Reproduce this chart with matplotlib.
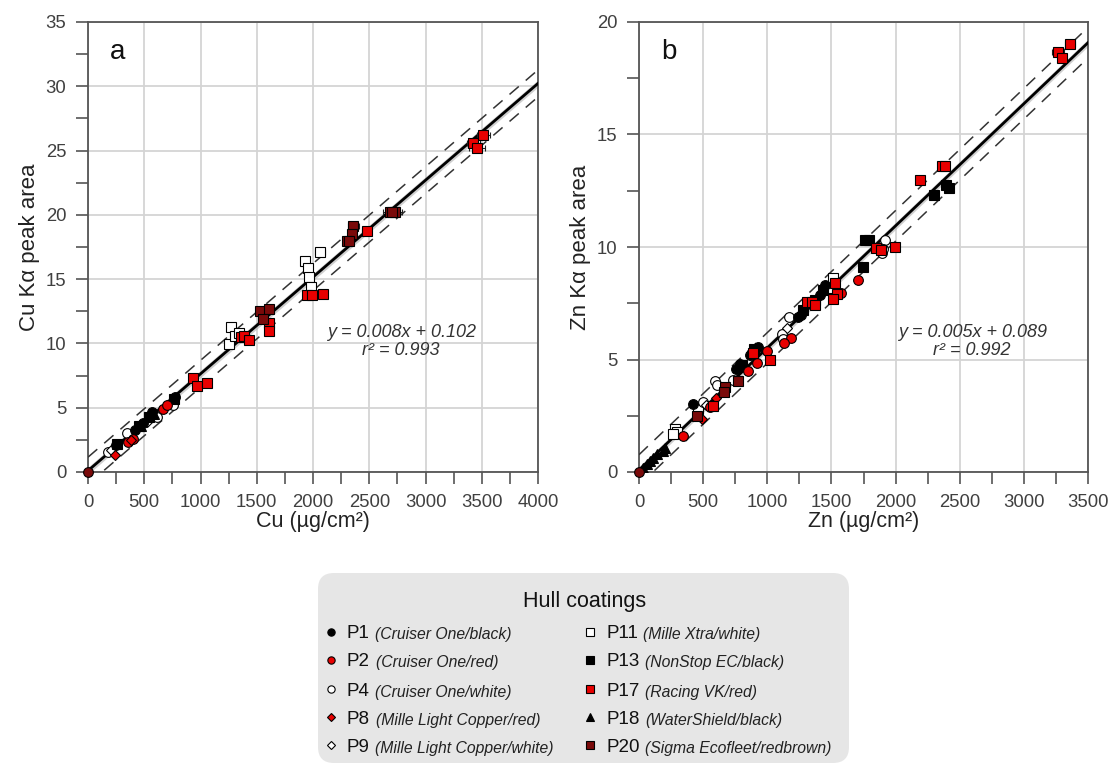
import numpy as np
import matplotlib
matplotlib.use("Agg")
import matplotlib.pyplot as plt
from matplotlib.patches import FancyBboxPatch
from matplotlib.ticker import MultipleLocator

plt.rcParams['font.family'] = ['Liberation Sans', 'DejaVu Sans']

# ---------------- Data: panel a (Cu) ----------------
cu_p1_x = [249, 418, 492, 566, 773]
cu_p1_y = [2.08, 3.25, 3.8, 4.7, 5.85]
cu_p2_x = [359, 404, 664, 699]
cu_p2_y = [2.34, 2.6, 4.87, 5.2]
cu_p4_x = [180, 344, 610, 759]
cu_p4_y = [1.56, 3.0, 4.3, 5.2]
cu_p8_x = [240, 380]
cu_p8_y = [1.3, 2.5]
cu_p9_x = [200, 520]
cu_p9_y = [1.7, 3.9]
cu_p11_x = [1268, 1256, 1303, 2062, 1932, 1959, 1967, 1979, 1340]
cu_p11_y = [11.3, 9.95, 10.6, 17.1, 16.45, 15.9, 15.15, 14.4, 10.8]
cu_p11_xerr = [0, 0, 20, 45, 30, 25, 0, 30, 0]
cu_p13_x = [260, 450, 540, 760]
cu_p13_y = [2.2, 3.6, 4.3, 5.7]
cu_p17_x = [936, 972, 1061, 1357, 1389, 1434, 1606, 1612, 1944, 1988, 2086,
            2477, 3425, 3514, 3455]
cu_p17_y = [7.3, 6.7, 6.95, 10.5, 10.55, 10.3, 11.6, 11.0, 13.8, 13.8, 13.85,
            18.75, 25.6, 26.2, 25.2]
cu_p17_xerr = [0, 0, 0, 0, 0, 0, 0, 0, 20, 0, 35, 40, 60, 60, 70]
cu_p18_x = [470, 590]
cu_p18_y = [3.6, 4.5]
cu_p20_x = [1529, 1612, 1553, 2359, 2344, 2299, 2320, 2684, 2729, 2700]
cu_p20_y = [12.5, 12.7, 11.9, 19.1, 18.5, 18.0, 18.0, 20.2, 20.2, 20.25]
cu_p20_xerr = [40, 0, 0, 50, 0, 0, 0, 60, 60, 0]

# ---------------- Data: panel b (Zn) ----------------
zn_p1_x = [423, 756, 787, 865, 930, 1243, 1260, 1411, 1450]
zn_p1_y = [3.02, 4.58, 4.8, 5.18, 5.55, 6.88, 6.96, 7.86, 8.3]
zn_p2_x = [1704, 1574, 1183, 1130, 995, 851, 922, 553, 340]
zn_p2_y = [8.53, 7.96, 5.95, 5.73, 5.36, 4.48, 4.84, 2.87, 1.6]
zn_p4_x = [1917, 1892, 1900, 1172, 1112, 1120, 592, 610, 735, 501]
zn_p4_y = [10.3, 9.72, 9.9, 6.89, 6.15, 5.9, 4.03, 3.85, 4.09, 3.1]
zn_p8_x = [489, 600]
zn_p8_y = [2.35, 3.3]
zn_p9_x = [520, 1150]
zn_p9_y = [3.0, 6.4]
zn_p11_x = [1510, 462, 280, 293, 267, 1480]
zn_p11_y = [8.6, 2.8, 1.9, 1.76, 1.69, 8.2]
zn_p13_x = [2419, 2393, 2299, 1761, 1789, 1744, 1432, 1372, 1281, 800, 900]
zn_p13_y = [12.6, 12.77, 12.3, 10.3, 10.3, 9.1, 8.1, 7.63, 7.19, 4.75, 5.45]
zn_p17_x = [3360, 3268, 3295, 2359, 2385, 2190, 1995, 1847, 1890, 1529, 1542,
            1515, 1310, 1345, 1371, 1021, 891, 579]
zn_p17_y = [19.0, 18.65, 18.4, 13.6, 13.6, 12.96, 10.0, 9.94, 9.87, 8.38, 7.93,
            7.71, 7.56, 7.56, 7.41, 4.98, 5.28, 2.95]
zn_p17_xerr = [40, 45, 0, 30, 0, 0, 0, 0, 0, 0, 0, 0, 0, 0, 0, 0, 0, 0]
zn_p18_x = [34, 60, 86, 110, 138, 190, 203]
zn_p18_y = [0.19, 0.35, 0.49, 0.62, 0.79, 0.94, 1.07]
zn_p20_x = [774, 671, 666, 450]
zn_p20_y = [4.03, 3.76, 3.55, 2.5]

origin_x = [0]
origin_y = [0]

# regression: slope, intercept, prediction half-width
cu_fit = (0.00753, 0.102, 1.05)
zn_fit = (0.005426, 0.089, 0.68)
cu_eq = ["y = 0.008x + 0.102", "r\u00b2 = 0.993"]
zn_eq = ["y = 0.005x + 0.089", "r\u00b2 = 0.992"]

# legend entries
legend_codes = ["P1", "P2", "P4", "P8", "P9", "P11", "P13", "P17", "P18", "P20"]
legend_names = ["(Cruiser One/black)", "(Cruiser One/red)", "(Cruiser One/white)",
                "(Mille Light Copper/red)", "(Mille Light Copper/white)",
                "(Mille Xtra/white)", "(NonStop EC/black)", "(Racing VK/red)",
                "(WaterShield/black)", "(Sigma Ecofleet/redbrown)"]

RED = '#e80000'
BROWN = '#7a0a0a'
styles = {
    "P1": dict(marker='o', mfc='black'),
    "P2": dict(marker='o', mfc=RED),
    "P4": dict(marker='o', mfc='white'),
    "P8": dict(marker='D', mfc=RED),
    "P9": dict(marker='D', mfc='white'),
    "P11": dict(marker='s', mfc='white'),
    "P13": dict(marker='s', mfc='black'),
    "P17": dict(marker='s', mfc=RED),
    "P18": dict(marker='^', mfc='black'),
    "P20": dict(marker='s', mfc=BROWN),
}
msize = {'o': 7, 's': 7, 'D': 5.5, '^': 7}

W, H = 1109, 766
fig = plt.figure(figsize=(W / 100, H / 100), dpi=100)

def px_axes(l, t, r, b):
    return fig.add_axes([l / W, 1 - b / H, (r - l) / W, (b - t) / H])

axA = px_axes(88, 22, 538, 472)
axB = px_axes(639, 22, 1088, 472)

SPINE = '#555555'
TXT = '#404040'

def draw_series(ax, code, x, y, xerr=None):
    st = styles[code]
    m = st['marker']
    if xerr is not None:
        ax.errorbar(x, y, xerr=xerr, fmt='none', ecolor='#222222', elinewidth=0.8,
                    capsize=2.5, capthick=0.8, zorder=4)
    ax.plot(x, y, linestyle='none', marker=m, ms=msize[m], mfc=st['mfc'],
            mec='black', mew=0.8, zorder=5)

def setup(ax, xmax, ymax, fit, eq, letter, xlabel, ylabel, eqx):
    ax.set_xlim(0, xmax)
    ax.set_ylim(0, ymax)
    ax.xaxis.set_major_locator(MultipleLocator(500))
    ax.xaxis.set_minor_locator(MultipleLocator(250))
    ax.yaxis.set_major_locator(MultipleLocator(5))
    ax.yaxis.set_minor_locator(MultipleLocator(2.5))
    ax.grid(True, which='major', color='#d4d4d4', lw=1.3, zorder=0)
    ax.set_axisbelow(True)
    for s in ax.spines.values():
        s.set_color(SPINE)
        s.set_linewidth(1.3)
    ax.tick_params(which='both', direction='out', length=8.5, width=1.2,
                   color=SPINE, labelcolor=TXT, labelsize=13.3, pad=7)
    ax.set_xlabel(xlabel, fontsize=15.5, color='#222222', labelpad=0)
    ax.set_ylabel(ylabel, fontsize=16, color='#222222', labelpad=4)
    slope, icpt, half = fit
    xs = np.linspace(0, xmax, 200)
    ys = slope * xs + icpt
    band = ymax * 0.008
    ax.fill_between(xs, ys - band, ys + band, color='#b0b0b0', alpha=0.6, lw=0, zorder=2)
    ax.plot(xs, ys, color='black', lw=2, zorder=3)
    ax.plot(xs, ys + half, color='#333333', lw=1.1, ls=(0, (8, 6)), zorder=3)
    ax.plot(xs, ys - half, color='#333333', lw=1.1, ls=(0, (8, 6)), zorder=3)
    ax.text(0.066, 0.933, letter, transform=ax.transAxes, fontsize=20,
            ha='center', va='center', color='#111111')
    ax.text(eqx, 0.311, eq[0], transform=ax.transAxes, fontsize=13,
            style='italic', ha='center', va='center', color='#333333')
    ax.text(eqx, 0.269, eq[1], transform=ax.transAxes, fontsize=13,
            style='italic', ha='center', va='center', color='#333333')

setup(axA, 4000, 35, cu_fit, cu_eq, 'a', 'Cu (\u00b5g/cm\u00b2)', 'Cu K\u03b1 peak area',
      0.696)
setup(axB, 3500, 20, zn_fit, zn_eq, 'b', 'Zn (\u00b5g/cm\u00b2)', 'Zn K\u03b1 peak area',
      0.742)

# panel a series
draw_series(axA, "P11", cu_p11_x, cu_p11_y, cu_p11_xerr)
draw_series(axA, "P4", cu_p4_x, cu_p4_y)
draw_series(axA, "P9", cu_p9_x, cu_p9_y)
draw_series(axA, "P1", cu_p1_x, cu_p1_y)
draw_series(axA, "P13", cu_p13_x, cu_p13_y)
draw_series(axA, "P18", cu_p18_x, cu_p18_y)
draw_series(axA, "P2", cu_p2_x, cu_p2_y)
draw_series(axA, "P8", cu_p8_x, cu_p8_y)
draw_series(axA, "P17", cu_p17_x, cu_p17_y, cu_p17_xerr)
draw_series(axA, "P20", cu_p20_x, cu_p20_y, cu_p20_xerr)
axA.plot(origin_x, origin_y, ls='none', marker='o', ms=7, mfc=BROWN, mec='black',
         mew=0.8, zorder=6, clip_on=False)

# panel b series
draw_series(axB, "P11", zn_p11_x, zn_p11_y)
draw_series(axB, "P4", zn_p4_x, zn_p4_y)
draw_series(axB, "P9", zn_p9_x, zn_p9_y)
draw_series(axB, "P1", zn_p1_x, zn_p1_y)
draw_series(axB, "P13", zn_p13_x, zn_p13_y)
draw_series(axB, "P18", zn_p18_x, zn_p18_y)
draw_series(axB, "P2", zn_p2_x, zn_p2_y)
draw_series(axB, "P8", zn_p8_x, zn_p8_y)
draw_series(axB, "P17", zn_p17_x, zn_p17_y, zn_p17_xerr)
draw_series(axB, "P20", zn_p20_x, zn_p20_y)
axB.plot(origin_x, origin_y, ls='none', marker='o', ms=7, mfc=BROWN, mec='black',
         mew=0.8, zorder=6, clip_on=False)

# ---------------- Legend (pixel coordinates) ----------------
lg = fig.add_axes([0, 0, 1, 1], zorder=10)
lg.set_xlim(0, W)
lg.set_ylim(H, 0)
lg.axis('off')
lg.add_patch(FancyBboxPatch((318, 573), 531, 190,
                            boxstyle='round,pad=0,rounding_size=16',
                            fc='#e6e6e6', ec='none'))
lg.text(585, 601, 'Hull coatings', fontsize=15.5, ha='center', va='center',
        color='#111111')
row_y = [632, 660, 689, 717, 745]
col_x = [331, 590]
for i, (code, name) in enumerate(zip(legend_codes, legend_names)):
    c, r = divmod(i, 5)
    mx, my = col_x[c], row_y[r]
    st = styles[code]
    m = st['marker']
    lg.plot([mx], [my], ls='none', marker=m, ms=msize[m] * 0.75, mfc=st['mfc'],
            mec='black', mew=0.8)
    t = lg.text(mx + 16, my + 6.5, code, fontsize=13.5, ha='left', va='baseline',
                color='#111111')
    lg.annotate(name, xy=(1, 0), xycoords=t, xytext=(4, 0),
                textcoords='offset points', fontsize=11.3, style='italic',
                ha='left', va='bottom', color='#222222')

fig.savefig('out.png', dpi=100)
